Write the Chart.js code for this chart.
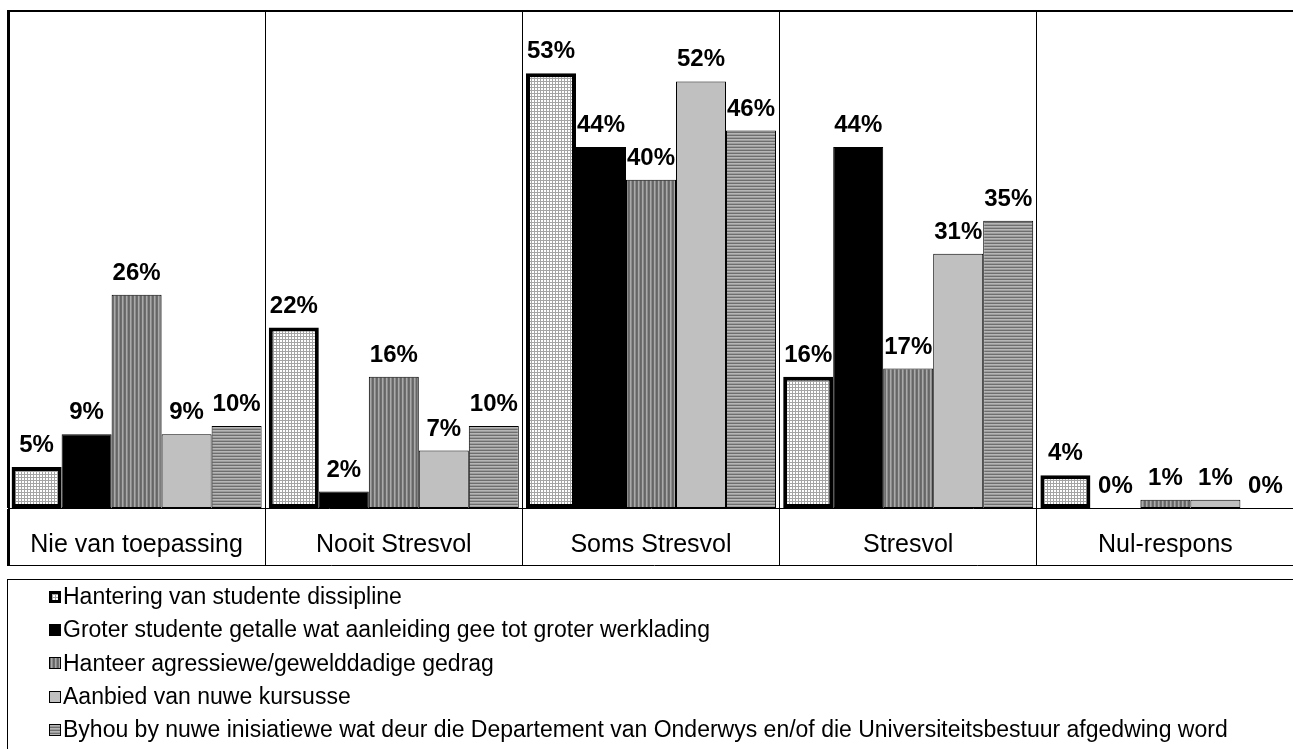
<!DOCTYPE html>
<html>
<head>
<meta charset="utf-8">
<script src="https://cdn.jsdelivr.net/npm/chart.js@4.4.0/dist/chart.umd.min.js"></script>
<style>
  body { margin: 0; background: #fff; overflow: hidden; width: 1293px; height: 749px; position: relative; font-family: 'Liberation Sans', Arial, sans-serif; }
  #chart-wrap { position: absolute; left: 0; top: 0; width: 1300px; height: 570px; }
  #legend { position: absolute; left: 7px; top: 579px; width: 1300px; height: 200px; border-top: 1px solid #000; border-left: 1px solid #000; }
  #legend ul { list-style: none; margin: 0; padding: 0; }
  #legend li { height: 33.3px; display: flex; align-items: center; padding-left: 41px; font-size: 23px; color: #000; white-space: nowrap; }
  #legend canvas { width: 12px; height: 12px; margin-right: 2px; }
</style>
</head>
<body>
<div id="chart-wrap"><canvas id="chart" width="1300" height="570"></canvas></div>
<div id="legend"></div>
<script>
// Chart data
const categories = ['Nie van toepassing', 'Nooit Stresvol', 'Soms Stresvol', 'Stresvol', 'Nul-respons'];
const seriesLabels = [
  'Hantering van studente dissipline',
  'Groter studente getalle wat aanleiding gee tot groter werklading',
  'Hanteer agressiewe/gewelddadige gedrag',
  'Aanbied van nuwe kursusse',
  'Byhou by nuwe inisiatiewe wat deur die Departement van Onderwys en/of die Universiteitsbestuur afgedwing word'
];
const dissipline = [5, 22, 53, 16, 4];
const werklading = [9, 2, 44, 44, 0];
const agressief = [26, 16, 40, 17, 1];
const kursusse = [9, 7, 52, 31, 1];
const inisiatiewe = [10, 10, 46, 35, 0];

const FONT = '"Liberation Sans", Arial, sans-serif';

// Fill patterns
function makePattern(w, h, draw) {
  const c = document.createElement('canvas');
  c.width = w;
  c.height = h;
  const g = c.getContext('2d');
  draw(g);
  return g.createPattern(c, 'repeat');
}

const gridFill = makePattern(3, 3, g => {
  g.fillStyle = '#ffffff';
  g.fillRect(0, 0, 3, 3);
  g.fillStyle = '#a4a4a4';
  g.fillRect(0, 0, 3, 1);
  g.fillRect(0, 0, 1, 3);
});

const vStripes = makePattern(4, 1, g => {
  const cols = ['#666666', '#6e6e6e', '#aaaaaa', '#8c8c8c'];
  cols.forEach((col, i) => { g.fillStyle = col; g.fillRect(i, 0, 1, 1); });
});

const hStripes = makePattern(1, 3, g => {
  const cols = ['#6e6e6e', '#b6b6b6', '#9c9c9c'];
  cols.forEach((col, i) => { g.fillStyle = col; g.fillRect(0, i, 1, 1); });
});

const seriesValues = [dissipline, werklading, agressief, kursusse, inisiatiewe];
const fills = [gridFill, '#000000', vStripes, '#c0c0c0', hStripes];
const borders = [4, 1, 1, 1, 1];

const datasets = seriesValues.map((vals, i) => ({
  label: seriesLabels[i],
  data: vals,
  backgroundColor: fills[i],
  borderColor: '#000000',
  borderWidth: borders[i],
  borderSkipped: false,
  categoryPercentage: 0.972,
  barPercentage: 1
}));

// Value labels above the bars
const valueLabels = {
  id: 'valueLabels',
  afterDatasetsDraw(chart) {
    const ctx = chart.ctx;
    ctx.save();
    ctx.font = 'bold 24px ' + FONT;
    ctx.fillStyle = '#000';
    ctx.textAlign = 'center';
    ctx.textBaseline = 'alphabetic';
    chart.data.datasets.forEach((ds, i) => {
      chart.getDatasetMeta(i).data.forEach((bar, j) => {
        ctx.fillText(ds.data[j] + '%', bar.x, bar.y - 15);
      });
    });
    ctx.restore();
  }
};

// Outer frame and bottom line of the label row
const frame = {
  id: 'frame',
  afterDraw(chart) {
    const { ctx, chartArea } = chart;
    const xs = chart.scales.x;
    ctx.save();
    ctx.strokeStyle = '#000';
    ctx.lineWidth = 2;
    ctx.beginPath();
    ctx.moveTo(chartArea.left, chartArea.top + 1);
    ctx.lineTo(chartArea.right + 10, chartArea.top + 1);
    ctx.moveTo(chartArea.left + 1, chartArea.top);
    ctx.lineTo(chartArea.left + 1, xs.bottom);
    ctx.stroke();
    ctx.lineWidth = 1;
    ctx.beginPath();
    ctx.moveTo(chartArea.left, xs.bottom - 0.5);
    ctx.lineTo(chartArea.right + 10, xs.bottom - 0.5);
    ctx.stroke();
    ctx.restore();
  }
};

const chart = new Chart(document.getElementById('chart'), {
  type: 'bar',
  data: { labels: categories, datasets: datasets },
  options: {
    responsive: false,
    animation: false,
    devicePixelRatio: 1,
    layout: { padding: { left: 8, top: 10, right: 6, bottom: 4 } },
    plugins: {
      legend: { display: false },
      tooltip: { enabled: false }
    },
    scales: {
      x: {
        offset: true,
        grid: { offset: true, color: '#000', lineWidth: 1, drawOnChartArea: true, drawTicks: true, tickLength: 58 },
        border: { display: true, color: '#000', width: 1 },
        ticks: { color: '#000', font: { family: FONT, size: 25 }, padding: -36, maxRotation: 0, autoSkip: false },
        afterFit(scale) { scale.height = 58; }
      },
      y: { display: false, min: 0, max: 60.7 }
    }
  },
  plugins: [valueLabels, frame]
});

// HTML legend built from the datasets
const ul = document.createElement('ul');
chart.data.datasets.forEach(ds => {
  const li = document.createElement('li');
  const sw = document.createElement('canvas');
  sw.width = 12;
  sw.height = 12;
  const g = sw.getContext('2d');
  g.fillStyle = ds.backgroundColor;
  g.fillRect(0, 0, 12, 12);
  g.strokeStyle = '#000';
  if (ds.borderWidth > 1) {
    g.lineWidth = 3;
    g.strokeRect(1.5, 1.5, 9, 9);
  } else {
    g.lineWidth = 1;
    g.strokeRect(0.5, 0.5, 11, 11);
  }
  const span = document.createElement('span');
  span.textContent = ds.label;
  li.appendChild(sw);
  li.appendChild(span);
  ul.appendChild(li);
});
document.getElementById('legend').appendChild(ul);
</script>
</body>
</html>
